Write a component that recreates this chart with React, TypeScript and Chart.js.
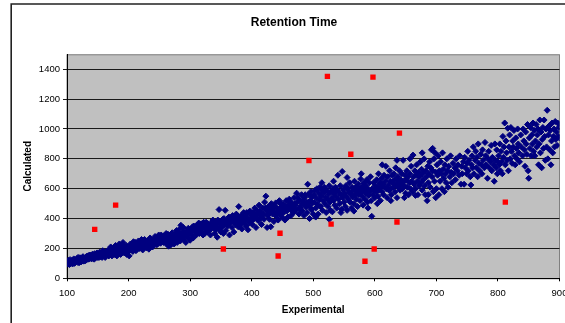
import React, { useEffect, useRef } from "react";
import { Chart, registerables } from "chart.js";

Chart.register(...registerables);

const TITLE = "Retention Time";
const X_TITLE = "Experimental";
const Y_TITLE = "Calculated";
const X_TICKS = [100, 200, 300, 400, 500, 600, 700, 800, 900];
const Y_TICKS = [0, 200, 400, 600, 800, 1000, 1200, 1400];

// Red outliers [experimental, calculated]
const OUTLIERS: [number, number][] = [
  [145, 328], [179, 490], [354, 196], [446, 302], [443, 149], [493, 789], [523, 1352],
  [529, 363], [561, 831], [584, 114], [597, 1347], [599, 196], [640, 972], [636, 377], [812, 510],
];

// Main series
const CLOUD_100_200: [number, number][] = [
  [100,98],[101,110],[102,95],[103,118],[104,102],[105,125],[106,100],[107,112],[108,120],[109,96],[110,108],[111,130],[112,115],[113,104],[114,122],[115,110],[116,132],[117,118],[118,105],[119,128],[120,115],[121,138],[122,120],[123,110],[124,130],[125,140],[126,122],[127,115],[128,135],[129,128],[130,118],
  [131,142],[132,125],[133,135],[134,150],[135,128],[136,140],[137,132],[138,155],[139,145],[140,130],[141,160],[142,138],[143,150],[144,142],[145,165],[146,135],[147,155],[148,148],[149,170],[150,140],[151,158],[152,150],[153,175],[154,145],[155,162],[156,155],[157,140],[158,170],[159,160],[160,150],[161,178],[162,165],[163,148],[164,172],[165,160],[166,185],[167,155],[168,175],[169,195],[170,165],
  [171,210],[172,180],[173,150],[174,190],[175,170],[176,205],[177,160],[178,185],[179,220],[180,175],[181,150],[182,195],[183,210],[184,170],[185,230],[186,185],[187,160],[188,200],[189,215],[190,180],[191,240],[192,190],[193,170],[194,205],[195,185],[196,220],[197,160],[198,195],[199,210],[200,180],
  [100,105],[102,120],[104,92],[106,115],[108,105],[110,122],[112,100],[114,112],[116,125],[118,140],[120,105],[122,132],[124,118],[126,145],[128,120],[130,135],[132,148],[134,130],[136,155],[138,140],[140,148],[142,160],[144,128],[146,150],[148,165],[150,155],[152,140],[154,168],[156,148],[158,185],[160,165],[162,140],[164,180],[166,170],[168,150],[170,190],[172,200],[174,160],[176,180],[178,165],[180,200],[182,170],[184,190],[186,210],[188,178],[190,200],[192,215],[194,185],[196,200],[198,178],
];

const CLOUD_200_300: [number, number][] = [
  [201,150],[202,200],[203,230],[205,190],[206,215],[208,245],[209,200],[210,225],[212,185],[213,235],[215,210],[216,250],[218,200],[219,230],[220,245],[222,215],[223,190],[225,240],[226,260],[228,225],[229,205],[230,250],[232,235],[233,195],[235,270],[236,240],[238,220],[240,255],[241,230],[243,280],[245,245],[246,225],[248,265],[249,290],[250,250],[252,235],[254,275],[255,255],[257,240],[258,285],[260,265],
  [261,300],[262,230],[263,280],[264,250],[265,215],[266,270],[267,240],[268,290],[269,225],[270,260],[271,305],[272,245],[273,275],[274,230],[275,285],[276,255],[278,320],[279,240],[280,270],[282,300],[284,250],[285,355],[286,280],[288,310],[290,260],[291,290],[293,240],[295,320],[296,275],[298,300],[300,255],
  [204,205],[207,180],[211,240],[214,195],[217,225],[221,260],[224,205],[227,245],[231,215],[234,255],[237,235],[239,210],[242,250],[244,265],[247,230],[251,270],[253,290],[256,260],[259,240],[262,265],[264,295],[266,225],[268,255],[270,240],[272,285],[274,265],[277,295],[281,250],[283,330],[287,270],[289,340],[292,305],[294,285],[297,335],[299,315],
];

const CLOUD_300_500: [number, number][] = [
  [301,330],[302,290],[304,345],[305,270],[307,310],[308,335],[310,290],[311,355],[313,320],[315,300],[316,340],[318,365],[320,310],[321,290],[323,345],[325,330],[326,375],[328,310],[330,350],[331,325],[333,290],[335,360],[336,380],[338,340],[340,300],[341,370],[343,345],[344,275],[345,390],[347,460],[348,330],[349,360],[350,310],
  [351,380],[352,345],[354,300],[355,400],[356,360],[357,455],[358,320],[360,385],[361,350],[363,410],[364,290],[365,370],[366,395],[368,340],[369,420],[370,380],[371,310],[373,400],[374,360],[375,430],[376,385],[378,345],[379,480],[380,400],[381,370],[383,420],[384,330],[385,395],[387,440],[388,375],[390,410],[391,350],[393,430],[394,325],[395,395],[397,450],[398,380],[400,420],
  [401,360],[402,440],[403,395],[405,470],[406,410],[407,340],[408,455],[410,425],[411,385],[412,490],[414,440],[415,405],[416,360],[418,470],[419,430],[420,395],[421,510],[423,550],[424,450],[425,340],[426,420],[427,480],[429,395],[430,460],[431,345],[432,500],[434,430],[435,470],[436,380],[438,440],[439,505],[440,415],[441,470],[443,390],[444,450],[445,520],[446,430],[448,480],[449,410],[450,460],
  [451,500],[452,440],[454,390],[455,480],[456,520],[457,450],[459,410],[460,490],[461,530],[463,460],[464,420],[465,505],[467,475],[468,440],[469,540],[470,490],[472,455],[473,570],[474,510],[476,470],[477,430],[478,520],[480,485],[481,560],[482,450],[484,500],[485,420],[486,540],[488,475],[489,510],[490,440],[491,630],[492,560],[493,490],[494,400],[495,520],[496,580],[497,460],[498,545],[499,505],[500,430],
  [303,320],[306,350],[309,315],[312,340],[314,370],[317,330],[319,350],[322,375],[324,300],[327,340],[329,365],[332,355],[334,330],[337,390],[339,360],[342,325],[346,380],[353,395],[359,360],[362,380],[367,410],[372,390],[377,420],[382,360],[386,410],[389,390],[392,440],[396,370],[399,400],[404,430],[409,395],[413,450],[417,420],[422,470],[428,430],[433,455],[437,480],[442,440],[447,500],[453,465],[458,480],[462,510],[466,460],[471,500],[475,540],[479,470],[483,525],[487,560],[492,510],[496,470],
];

const CLOUD_500_700: [number, number][] = [
  [501,560],[502,510],[503,590],[504,470],[505,540],[506,600],[507,495],[508,430],[509,570],[510,525],[511,610],[512,480],[513,550],[514,590],[515,455],[516,520],[517,575],[518,610],[519,500],[520,545],[521,440],[522,590],[523,530],[524,480],[525,565],[526,620],[527,510],[528,455],[529,580],[530,540],[531,445],[532,600],[533,520],[534,570],[535,490],[536,610],[537,550],[538,470],[539,590],[540,690],[541,530],[542,575],[543,500],[544,620],[545,560],[546,460],[547,715],[548,540],[549,595],[550,510],
  [551,570],[552,480],[553,620],[554,550],[555,455],[556,600],[557,530],[558,580],[559,640],[560,510],[561,565],[562,470],[563,610],[564,545],[565,590],[566,500],[567,650],[568,560],[569,610],[570,530],[571,580],[572,480],[573,630],[574,560],[575,600],[576,520],[577,665],[578,575],[579,610],[580,550],[581,490],[582,640],[583,590],[584,530],[585,620],[586,570],[587,660],[588,510],[589,600],[590,555],[591,640],[592,580],[593,680],[594,520],[595,415],[596,600],[597,560],[598,640],[599,590],[600,540],
  [601,620],[602,580],[603,660],[604,610],[605,550],[606,700],[607,590],[608,640],[609,520],[610,610],[611,670],[612,580],[613,630],[614,560],[615,690],[616,610],[617,650],[618,750],[619,600],[620,540],[621,680],[622,625],[623,590],[624,720],[625,650],[626,600],[627,560],[628,690],[629,640],[630,610],[631,700],[632,660],[633,580],[634,740],[635,630],[636,540],[637,680],[638,610],[639,650],[640,720],[641,590],[642,660],[643,630],[644,700],[645,600],[646,790],[647,650],[648,620],[649,690],[650,570],
  [651,660],[652,720],[653,610],[654,680],[655,560],[656,640],[657,700],[658,600],[659,750],[660,650],[661,580],[662,825],[663,680],[664,630],[665,720],[666,600],[667,690],[668,760],[669,650],[670,560],[671,710],[672,620],[673,680],[674,780],[675,640],[676,730],[677,590],[678,700],[679,660],[680,800],[681,620],[682,560],[683,720],[684,680],[685,520],[686,750],[687,640],[688,700],[689,780],[690,610],[691,740],[692,860],[693,680],[694,720],[695,580],[696,800],[697,650],[698,840],[699,710],[700,600],
  [504,410],[514,640],[526,395],[533,650],[545,440],[555,675],[566,450],[578,700],[589,470],[604,500],[612,760],[626,520],[636,790],[648,540],[657,800],[666,555],[677,840],[687,560],[694,870],[699,540],
];

const CLOUD_700_900: [number, number][] = [
  [701,760],[702,690],[703,820],[704,560],[705,720],[706,650],[707,780],[708,700],[709,600],[710,840],[711,730],[712,670],[713,580],[714,760],[715,700],[716,640],[717,800],[718,720],[719,610],[720,750],[722,680],[723,820],[724,710],[725,640],[727,770],[728,700],[730,740],[731,660],[732,800],[734,720],[735,760],[737,690],[738,820],[740,630],[741,750],[742,700],[744,780],[745,630],[746,810],[747,740],[749,700],[750,770],
  [751,850],[752,720],[753,790],[755,680],[756,625],[757,760],[758,820],[759,740],[760,880],[761,700],[763,790],[764,850],[765,740],[766,810],[767,680],[768,900],[769,770],[770,720],[772,830],[773,760],[774,700],[775,860],[776,790],[778,740],[779,910],[780,820],[781,760],[783,670],[784,800],[785,850],[786,740],[788,780],[789,890],[790,720],[791,810],[793,760],[794,650],[795,900],[796,790],[797,740],[798,860],[799,700],[800,780],
  [801,820],[802,760],[803,900],[804,720],[805,850],[806,780],[807,700],[808,950],[809,810],[810,880],[811,1040],[812,760],[813,920],[814,840],[815,790],[816,1005],[817,720],[818,880],[819,960],[820,800],[821,1010],[822,850],[823,770],[824,920],[825,880],[826,990],[827,820],[828,760],[829,940],[830,870],[831,800],[832,1000],[833,900],[834,840],[835,780],[837,960],[838,880],[840,820],[841,1000],[842,920],[843,860],[844,750],[845,980],[846,900],[847,830],[848,1030],[849,720],[850,670],
  [851,940],[852,870],[853,1010],[854,820],[855,960],[856,900],[857,1040],[858,850],[859,990],[860,820],[861,920],[862,1030],[863,880],[864,960],[865,1000],[866,760],[867,900],[868,1060],[869,840],[870,980],[871,740],[872,930],[873,1010],[874,870],[875,1060],[876,950],[877,790],[878,1000],[879,880],[880,1125],[881,800],[882,960],[883,1020],[884,860],[885,990],[886,760],[887,920],[888,1040],[889,840],[890,950],[891,1000],[892,880],[893,1050],[894,930],[895,980],[896,890],[897,1040],[898,950],[899,1010],[900,940],
];

const toXY = (arr: [number, number][]) => arr.map(([x, y]) => ({ x, y }));

const FONT = "'Liberation Sans', Arial, sans-serif";

export default function App() {
  const ref = useRef<HTMLCanvasElement | null>(null);

  useEffect(() => {
    document.body.style.margin = "0";
    const canvas = ref.current;
    if (!canvas) return;

    const decor = {
      id: "decor",
      beforeDraw(chart: any) {
        const { ctx, chartArea: a } = chart;
        ctx.save();
        ctx.fillStyle = "#ffffff";
        ctx.fillRect(0, 0, chart.width, chart.height);
        ctx.fillStyle = "#c0c0c0";
        ctx.fillRect(a.left, a.top, a.right - a.left, a.bottom - a.top);
        ctx.strokeStyle = "#808080";
        ctx.lineWidth = 1;
        ctx.strokeRect(a.left, a.top + 0.5, a.right - a.left, a.bottom - a.top);
        // outer chart border
        ctx.strokeStyle = "#222222";
        ctx.lineWidth = 1.6;
        ctx.beginPath();
        ctx.moveTo(11.2, chart.height + 2);
        ctx.lineTo(11.2, 4);
        ctx.lineTo(chart.width + 2, 4);
        ctx.stroke();
        // title
        ctx.fillStyle = "#000";
        ctx.font = `bold 12px ${FONT}`;
        ctx.textAlign = "center";
        ctx.textBaseline = "middle";
        ctx.fillText(TITLE, 294, 23);
        ctx.restore();
      },
    };

    const chart = new Chart(canvas, {
      type: "scatter",
      data: {
        datasets: [
          {
            label: "Outliers",
            data: toXY(OUTLIERS),
            pointStyle: "rect",
            pointRadius: 3.8,
            pointHoverRadius: 3.8,
            backgroundColor: "#ff0000",
            borderColor: "#ff0000",
            borderWidth: 0,
          },
          {
            label: "Calculated",
            data: toXY([
              ...CLOUD_100_200,
              ...CLOUD_200_300,
              ...CLOUD_300_500,
              ...CLOUD_500_700,
              ...CLOUD_700_900,
            ]),
            pointStyle: "rectRot",
            pointRadius: 3,
            pointHoverRadius: 3,
            backgroundColor: "#000080",
            borderColor: "#000080",
            borderWidth: 1,
          },
        ],
      },
      options: {
        responsive: false,
        animation: false,
        devicePixelRatio: 1,
        layout: { padding: { left: 12, right: 5.5, top: 54.3, bottom: 0 } },
        plugins: {
          legend: { display: false },
          title: { display: false },
          tooltip: { enabled: false },
        },
        scales: {
          x: {
            type: "linear",
            min: 100,
            max: 900,
            afterBuildTicks: (s: any) => {
              s.ticks = X_TICKS.map((v) => ({ value: v }));
            },
            afterFit: (s: any) => {
              s.height = 44.7;
              s.paddingLeft = 0;
              s.paddingRight = 0;
            },
            grid: {
              drawOnChartArea: false,
              drawTicks: true,
              tickLength: 3,
              color: "#000",
            },
            border: { display: true, color: "#000", width: 1 },
            ticks: {
              color: "#000",
              padding: 6,
              maxRotation: 0,
              autoSkip: false,
              callback: (v: any) => String(v),
              font: { family: FONT, size: 9.5 },
            },
            title: {
              display: true,
              text: X_TITLE,
              color: "#000",
              padding: { top: 0, bottom: 7 },
              font: { family: FONT, size: 10, weight: "bold" },
            },
          },
          y: {
            type: "linear",
            min: 0,
            max: 1500,
            afterBuildTicks: (s: any) => {
              s.ticks = Y_TICKS.map((v) => ({ value: v }));
            },
            afterFit: (s: any) => {
              s.width = 55;
              s.paddingTop = 0;
              s.paddingBottom = 0;
            },
            grid: {
              drawOnChartArea: true,
              drawTicks: true,
              tickLength: 4,
              color: "#1a1a1a",
              lineWidth: 1,
            },
            border: { display: true, color: "#000", width: 1 },
            ticks: {
              color: "#000",
              padding: 3,
              autoSkip: false,
              callback: (v: any) => String(v),
              font: { family: FONT, size: 9.5 },
            },
            title: {
              display: true,
              text: Y_TITLE,
              color: "#000",
              padding: { top: 10, bottom: 0 },
              font: { family: FONT, size: 10, weight: "bold" },
            },
          },
        },
      },
      plugins: [decor],
    } as any);

    return () => chart.destroy();
  }, []);

  return (
    <div style={{ width: 565, height: 323 }}>
      <canvas ref={ref} width={565} height={323} style={{ display: "block", width: 565, height: 323 }} />
    </div>
  );
}
